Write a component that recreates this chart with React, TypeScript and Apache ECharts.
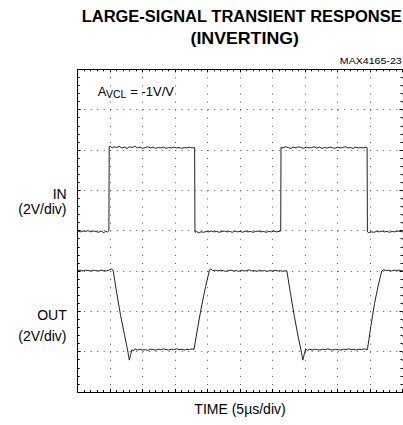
import React, { useEffect, useRef } from "react";
import * as echarts from "echarts";

// Time axis: 10 divisions (5µs/div); vertical: 8 divisions (2V/div), values in divisions from bottom
const xDivisions = [0, 10];
const yDivisions = [0, 8];

const inTrace: [number, number][] = [
  [0.0, 3.99], [0.08, 3.97], [0.16, 3.99], [0.24, 3.98], [0.32, 4.0], [0.4, 3.97], [0.48, 3.99], [0.56, 3.98],
  [0.64, 3.96], [0.72, 3.99], [0.8, 3.95], [0.86, 3.98], [0.92, 3.97], [0.96, 4.0],
  [0.97, 6.08], [1.0, 6.1], [1.06, 6.05], [1.12, 6.08], [1.2, 6.06], [1.28, 6.09], [1.36, 6.05], [1.44, 6.07],
  [1.52, 6.04], [1.6, 6.08], [1.68, 6.06], [1.76, 6.09], [1.84, 6.05], [1.92, 6.07], [2.0, 6.04], [2.08, 6.06],
  [2.16, 6.08], [2.24, 6.05], [2.32, 6.07], [2.4, 6.04], [2.48, 6.06], [2.56, 6.05], [2.64, 6.07], [2.72, 6.04],
  [2.8, 6.06], [2.88, 6.05], [2.96, 6.07], [3.04, 6.05], [3.12, 6.06], [3.2, 6.04], [3.28, 6.06], [3.36, 6.05],
  [3.44, 6.07], [3.52, 6.05], [3.6, 6.06],
  [3.61, 3.96], [3.66, 3.98], [3.72, 3.95], [3.8, 3.97], [3.88, 3.96], [3.96, 3.98], [4.04, 3.97], [4.12, 3.99],
  [4.2, 3.97], [4.28, 3.98], [4.36, 3.96], [4.44, 3.98], [4.52, 3.99], [4.6, 3.97], [4.68, 3.98], [4.76, 3.96],
  [4.84, 3.99], [4.92, 3.97], [5.0, 3.98], [5.08, 3.96], [5.16, 3.99], [5.24, 3.97], [5.32, 3.98], [5.4, 3.96],
  [5.48, 3.98], [5.56, 3.99], [5.64, 3.97], [5.72, 3.98], [5.8, 3.96], [5.88, 3.98], [5.96, 3.97], [6.04, 3.99],
  [6.12, 3.97], [6.2, 3.98], [6.25, 3.99],
  [6.26, 6.07], [6.32, 6.05], [6.4, 6.08], [6.48, 6.06], [6.56, 6.04], [6.64, 6.07], [6.72, 6.05], [6.8, 6.08],
  [6.88, 6.06], [6.96, 6.04], [7.04, 6.07], [7.12, 6.05], [7.2, 6.06], [7.28, 6.08], [7.36, 6.05], [7.44, 6.07],
  [7.52, 6.04], [7.6, 6.06], [7.68, 6.05], [7.76, 6.07], [7.84, 6.06], [7.92, 6.04], [8.0, 6.07], [8.08, 6.05],
  [8.16, 6.06], [8.24, 6.08], [8.32, 6.05], [8.4, 6.06], [8.48, 6.04], [8.56, 6.07], [8.64, 6.05], [8.72, 6.06],
  [8.8, 6.05], [8.88, 6.07], [8.91, 6.06],
  [8.92, 3.97], [8.96, 3.95], [9.04, 3.97], [9.12, 3.96], [9.2, 3.98], [9.28, 3.97], [9.36, 3.99], [9.44, 3.97],
  [9.52, 3.98], [9.6, 3.96], [9.68, 3.98], [9.76, 3.97], [9.84, 3.99], [9.92, 3.98], [10.0, 3.97],
];

const outTrace: [number, number][] = [
  [0.0, 3.01], [0.08, 3.02], [0.16, 3.0], [0.24, 3.02], [0.32, 3.01], [0.4, 3.0], [0.48, 3.02], [0.56, 3.01],
  [0.64, 3.0], [0.72, 3.02], [0.8, 3.01], [0.88, 3.0], [0.96, 3.02], [1.03, 3.05], [1.09, 3.02],
  [1.2, 2.46], [1.32, 1.9], [1.44, 1.42], [1.55, 0.98], [1.59, 0.79], [1.63, 0.93], [1.67, 1.05], [1.71, 1.02],
  [1.76, 1.07], [1.84, 1.04], [1.92, 1.06], [2.0, 1.04], [2.08, 1.05], [2.16, 1.03], [2.24, 1.06], [2.32, 1.05],
  [2.4, 1.04], [2.48, 1.06], [2.56, 1.05], [2.64, 1.07], [2.72, 1.05], [2.8, 1.04], [2.88, 1.06], [2.96, 1.05],
  [3.04, 1.07], [3.12, 1.05], [3.2, 1.06], [3.28, 1.04], [3.36, 1.06], [3.44, 1.05], [3.52, 1.07], [3.58, 1.05],
  [3.7, 1.62], [3.82, 2.16], [3.94, 2.62], [4.06, 3.03], [4.1, 3.05], [4.16, 3.01], [4.24, 3.02], [4.32, 3.0],
  [4.4, 3.02], [4.48, 3.01], [4.56, 2.99], [4.64, 3.01], [4.72, 3.02], [4.8, 3.0], [4.88, 3.01], [4.96, 2.99],
  [5.04, 3.02], [5.12, 3.0], [5.2, 3.01], [5.28, 3.03], [5.36, 3.0], [5.44, 3.01], [5.52, 2.99], [5.6, 3.02],
  [5.68, 3.0], [5.76, 3.01], [5.84, 2.99], [5.92, 3.01], [6.0, 3.0], [6.08, 3.02], [6.16, 3.0], [6.24, 3.01],
  [6.32, 2.99], [6.4, 3.01], [6.44, 3.0],
  [6.55, 2.45], [6.67, 1.88], [6.79, 1.36], [6.89, 0.98], [6.93, 0.79], [6.97, 0.92], [7.02, 1.07], [7.07, 1.03],
  [7.14, 1.06], [7.22, 1.04], [7.3, 1.06], [7.38, 1.05], [7.46, 1.04], [7.54, 1.06], [7.62, 1.05], [7.7, 1.07],
  [7.78, 1.05], [7.86, 1.04], [7.94, 1.06], [8.02, 1.05], [8.1, 1.04], [8.18, 1.06], [8.26, 1.05], [8.34, 1.07],
  [8.42, 1.05], [8.5, 1.06], [8.58, 1.04], [8.66, 1.06], [8.74, 1.05], [8.82, 1.07], [8.92, 1.05],
  [9.03, 1.65], [9.14, 2.2], [9.25, 2.63], [9.36, 3.0], [9.42, 3.03], [9.5, 3.01], [9.58, 3.02], [9.66, 3.0],
  [9.74, 3.02], [9.82, 3.01], [9.9, 3.02], [10.0, 3.01],
];

const titleLines = ["LARGE-SIGNAL TRANSIENT RESPONSE", "(INVERTING)"];
const figureId = "MAX4165-23";
const inLabel = ["IN", "(2V/div)"];
const outLabel = ["OUT", "(2V/div)"];
const xLabel = "TIME (5µs/div)";
const gainParts = ["A", "VCL", "= -1V/V"];

const FONT = '"Liberation Sans", Arial, sans-serif';

function txt(text: string, x: number, y: number, size: number, align: string, opts: any = {}) {
  return {
    type: "text",
    x,
    y,
    scaleX: opts.scaleX ?? 1,
    silent: true,
    style: {
      text,
      x: 0,
      y: 0,
      font: `${opts.bold ? "bold " : ""}${size}px ${FONT}`,
      fill: "#000",
      align,
      verticalAlign: "middle",
      textAlign: align,
      textVerticalAlign: "middle",
    },
  };
}

export default function App() {
  const ref = useRef<HTMLDivElement>(null);
  useEffect(() => {
    if (!ref.current) return;
    const chart = echarts.init(ref.current, null, { renderer: "svg" });
    const tickCommon = {
      axisLine: { show: true, onZero: false, lineStyle: { color: "#000", width: 1 } },
      axisTick: { show: true, inside: true, length: 3, lineStyle: { color: "#000", width: 1 } },
      minorTick: { show: true, splitNumber: 5, length: 2, lineStyle: { color: "#000", width: 1 } },
      axisLabel: { show: false },
    };
    chart.setOption({
      animation: false,
      backgroundColor: "#fff",
      grid: { left: 77.7, top: 69.3, right: 0.5, bottom: 33, containLabel: false },
      xAxis: [
        {
          type: "value",
          min: xDivisions[0],
          max: xDivisions[1],
          interval: 1,
          position: "bottom",
          ...tickCommon,
          splitLine: { show: true, lineStyle: { color: "#555", width: 1, type: [1, 7.07] } },
        },
        {
          type: "value",
          min: xDivisions[0],
          max: xDivisions[1],
          interval: 1,
          position: "top",
          ...tickCommon,
          splitLine: { show: false },
        },
      ],
      yAxis: [
        {
          type: "value",
          min: yDivisions[0],
          max: yDivisions[1],
          interval: 1,
          position: "left",
          ...tickCommon,
          splitLine: { show: true, lineStyle: { color: "#555", width: 1, type: [1, 5.5] } },
        },
        {
          type: "value",
          min: yDivisions[0],
          max: yDivisions[1],
          interval: 1,
          position: "right",
          ...tickCommon,
          axisLine: { show: false, onZero: false },
          splitLine: { show: false },
        },
      ],
      series: [
        {
          name: "IN",
          type: "line",
          data: inTrace,
          showSymbol: false,
          symbol: "none",
          silent: true,
          lineStyle: { color: "#222", width: 1 },
        },
        {
          name: "OUT",
          type: "line",
          data: outTrace,
          showSymbol: false,
          symbol: "none",
          silent: true,
          lineStyle: { color: "#222", width: 1 },
        },
      ],
      graphic: [
        txt(titleLines[0], 241.7, 15.8, 16, "center", { bold: true, scaleX: 1.03 }),
        txt(titleLines[1], 244.7, 38.8, 16, "center", { bold: true, scaleX: 1.11 }),
        txt(figureId, 401.7, 61, 9, "right", { scaleX: 1.18 }),
        txt(gainParts[0], 97.7, 91.3, 13, "left"),
        txt(gainParts[1], 106, 94, 10.5, "left"),
        txt(gainParts[2], 130.3, 91.3, 13, "left"),
        txt(inLabel[0], 66.7, 194, 14, "right"),
        txt(inLabel[1], 66.5, 208.5, 14, "right"),
        txt(outLabel[0], 66.7, 314.7, 14, "right"),
        txt(outLabel[1], 66.5, 335.5, 14, "right"),
        txt(xLabel, 240, 409, 14, "center"),
      ],
    });
    return () => chart.dispose();
  }, []);
  return (
    <div
      ref={ref}
      style={{ position: "fixed", left: 0, top: 0, width: 403, height: 425, background: "#fff" }}
    />
  );
}
